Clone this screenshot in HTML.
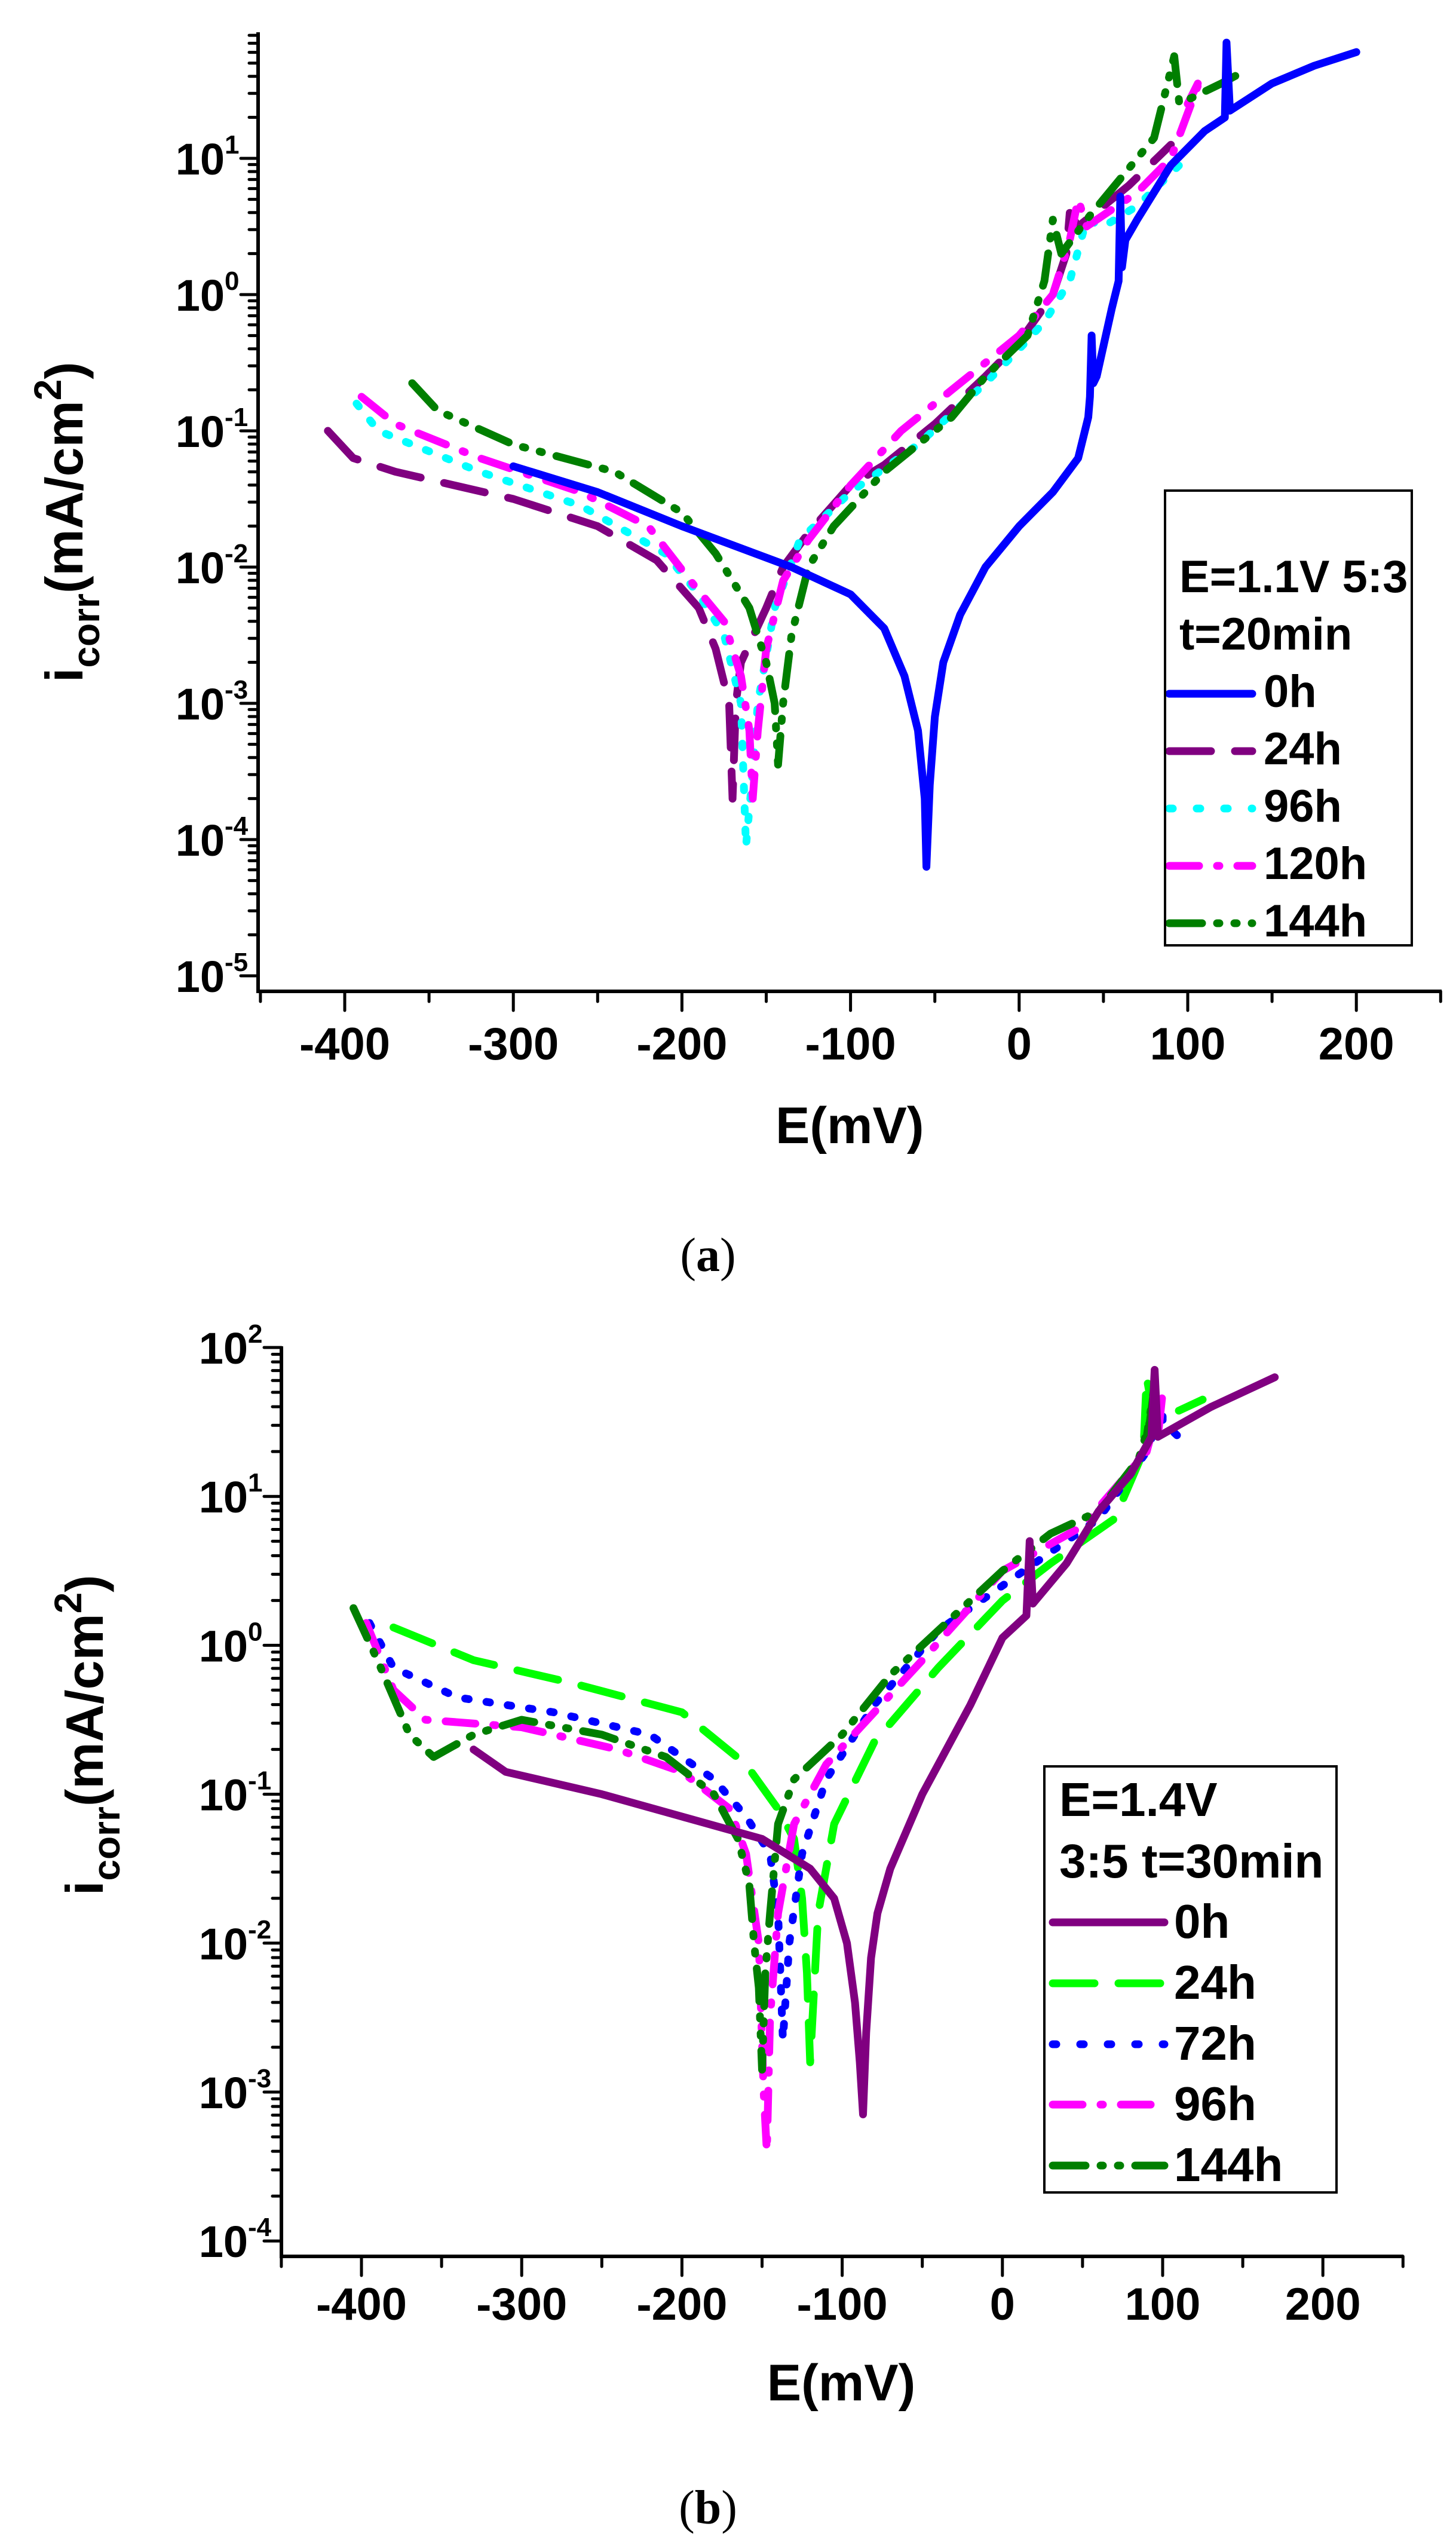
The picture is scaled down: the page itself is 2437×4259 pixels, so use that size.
<!DOCTYPE html>
<html><head><meta charset="utf-8"><style>
html,body{margin:0;padding:0;background:#fff}
svg{display:block}
text{font-family:"Liberation Sans",Arial,sans-serif;font-weight:bold;fill:#000}
</style></head><body>
<svg id="s" xmlns="http://www.w3.org/2000/svg" width="2437" height="4259" viewBox="0 0 2437 4259">
<rect width="2437" height="4259" fill="#fff"/>
<g id="g"></g>
<text x="1298" y="1913" font-size="86">E(mV)</text>
<text x="1185" y="2127" text-anchor="middle" style="font-family:'Liberation Serif',serif;font-weight:normal" font-size="80">(<tspan font-weight="bold">a</tspan>)</text>
<text transform="translate(138,1142) rotate(-90)" font-size="88">i<tspan font-size="64" dy="28">corr</tspan><tspan dy="-28">(mA/cm</tspan><tspan font-size="64" dy="-36">2</tspan><tspan dy="36">)</tspan></text>
<rect x="1950" y="821" width="413" height="761" fill="none" stroke="#000" stroke-width="4"/>
<text x="1974" y="991" font-size="76">E=1.1V 5:3</text>
<text x="1974" y="1087" font-size="76">t=20min</text>
<text x="2115" y="1183" font-size="76">0h</text>
<text x="2115" y="1279" font-size="76">24h</text>
<text x="2115" y="1375" font-size="76">96h</text>
<text x="2115" y="1471" font-size="76">120h</text>
<text x="2115" y="1567" font-size="76">144h</text>
<text x="1408" y="4017" font-size="86" text-anchor="middle">E(mV)</text>
<text x="1185" y="4223" text-anchor="middle" style="font-family:'Liberation Serif',serif;font-weight:normal" font-size="80">(<tspan font-weight="bold">b</tspan>)</text>
<text transform="translate(172,3172) rotate(-90)" font-size="88">i<tspan font-size="64" dy="28">corr</tspan><tspan dy="-28">(mA/cm</tspan><tspan font-size="64" dy="-36">2</tspan><tspan dy="36">)</tspan></text>
<rect x="1748" y="2956" width="489" height="713" fill="none" stroke="#000" stroke-width="4"/>
<text x="1773" y="3039" font-size="80">E=1.4V</text>
<text x="1773" y="3142" font-size="80">3:5 t=30min</text>
<text x="1965" y="3243" font-size="80">0h</text>
<text x="1965" y="3345" font-size="80">24h</text>
<text x="1965" y="3447" font-size="80">72h</text>
<text x="1965" y="3548" font-size="80">96h</text>
<text x="1965" y="3650" font-size="80">144h</text>
</svg>
<script>
var NS="http://www.w3.org/2000/svg",G=document.getElementById('g');
function el(t,a,p){var e=document.createElementNS(NS,t);for(var k in a)e.setAttribute(k,a[k]);if(p!=null)e.textContent=p;G.appendChild(e);return e;}
function axes(c){
 el('line',{x1:c.ax,y1:c.top,x2:c.ax,y2:c.bot,stroke:'#000','stroke-width':6});
 el('line',{x1:c.ax-3,y1:c.bot,x2:c.right,y2:c.bot,stroke:'#000','stroke-width':6});
 for(var d=c.dmin;d<=c.dmax;d++){
  var y=c.Y(d);
  if(y>=c.top-2&&y<=c.bot){el('line',{x1:c.ax-29,y1:y,x2:c.ax,y2:y,stroke:'#000','stroke-width':5,'stroke-linecap':'round'});
   el('text',{x:c.ax-56,y:y+27,'font-size':74,'text-anchor':'end'},'10');
   el('text',{x:c.ax-56,y:y-8,'font-size':44},(d<0?'-':'')+Math.abs(d));
  }
  for(var m=2;m<=9;m++){var yy=c.Y(d+Math.log10(m));if(yy>=c.top&&yy<=c.bot)el('line',{x1:c.ax-15,y1:yy,x2:c.ax,y2:yy,stroke:'#000','stroke-width':5,'stroke-linecap':'round'});}
 }
 for(var e=-450;e<=250;e+=50){var x=c.X(e);var maj=(e%100==0);
  el('line',{x1:x,y1:c.bot,x2:x,y2:c.bot+(maj?32:17),stroke:'#000','stroke-width':5,'stroke-linecap':'round'});
  if(maj&&e>=-400&&e<=200)el('text',{x:x,y:c.lab,'font-size':76,'text-anchor':'middle'},''+e);
 }
}
function series(c,pts,col,dash){
 var s='';for(var i=0;i<pts.length;i++){s+=(i?'L':'M')+c.X(pts[i][0]).toFixed(1)+' '+c.Y(pts[i][1]).toFixed(1);}
 var a={d:s,fill:'none',stroke:col,'stroke-width':13,'stroke-linecap':'round','stroke-linejoin':'round'};
 if(dash)a['stroke-dasharray']=dash;el('path',a);
}
function leg(x1,x2,y,col,dash){var a={x1:x1,y1:y,x2:x2,y2:y,stroke:col,'stroke-width':13,'stroke-linecap':'round'};if(dash)a['stroke-dasharray']=dash;el('line',a);}
var DL='70,40',DOT='6,30',DD='50,30,4,30',DDD='55,25,4,25,4,25';
var A={ax:432,top:54,bot:1659,right:2413,lab:1773,dmin:-5,dmax:1,
 X:function(e){return 577+(e+400)*2.822},Y:function(d){return 265+(1-d)*228}};
var B={ax:471,top:2253,bot:3776,right:2349,lab:3882,dmin:-4,dmax:2,
 X:function(e){return 605+(e+400)*2.682},Y:function(d){return 2255+(2-d)*249.2}};
axes(A);axes(B);
series(A,[[-410,-1],[-395,-1.2],[-370,-1.3],[-300,-1.5],[-250,-1.7],[-215,-1.95],[-190,-2.3],[-180,-2.6],[-172,-3.0],[-170,-3.7],[-168,-3.0],[-165,-2.7],[-150,-2.3],[-140,-2.0],[-125,-1.75],[-100,-1.4],[-80,-1.25],[-50,-0.95],[-20,-0.6],[0,-0.35],[20,0],[28,0.3],[30,0.6],[35,0.5],[50,0.65],[65,0.8],[90,1.1]],'#800080',DL);
series(A,[[-393,-0.8],[-380,-1.0],[-320,-1.3],[-260,-1.55],[-210,-1.9],[-190,-2.2],[-175,-2.5],[-165,-3.0],[-162,-4.05],[-158,-3.5],[-155,-3.0],[-145,-2.3],[-130,-1.8],[-100,-1.45],[-60,-1.1],[-20,-0.65],[0,-0.4],[15,-0.2],[30,0.1],[40,0.55],[50,0.5],[70,0.65],[95,0.95]],'#00ffff',DOT);
series(A,[[-390,-0.75],[-370,-0.95],[-320,-1.2],[-260,-1.45],[-220,-1.7],[-195,-2.1],[-175,-2.4],[-165,-2.8],[-160,-3.2],[-158,-3.7],[-155,-3.2],[-150,-2.6],[-140,-2.1],[-125,-1.8],[-100,-1.4],[-70,-1.0],[-40,-0.7],[0,-0.3],[20,0],[30,0.4],[35,0.7],[40,0.5],[70,0.75],[90,1.0],[108,1.6],[100,1.4]],'#ff00ff',DD);
series(A,[[-360,-0.65],[-345,-0.85],[-300,-1.1],[-240,-1.3],[-200,-1.6],[-180,-1.9],[-160,-2.3],[-150,-2.7],[-145,-3.0],[-143,-3.45],[-140,-3.0],[-135,-2.5],[-125,-2.0],[-110,-1.7],[-80,-1.3],[-40,-0.9],[-20,-0.6],[5,-0.3],[15,0.1],[20,0.55],[25,0.3],[40,0.55],[60,0.85],[80,1.15],[92,1.75],[95,1.4],[120,1.55],[135,1.65]],'#007f00',DDD);
series(A,[[-300,-1.26],[-250,-1.45],[-200,-1.7],[-135,-2.0],[-100,-2.2],[-80,-2.45],[-68,-2.8],[-60,-3.2],[-56,-3.7],[-55,-4.2],[-53,-3.6],[-50,-3.1],[-45,-2.7],[-35,-2.35],[-20,-2.0],[0,-1.7],[20,-1.45],[35,-1.2],[41,-0.9],[42,-0.75],[43,-0.3],[44,-0.65],[46,-0.6],[55,-0.1],[59,0.1],[60,0.72],[61,0.2],[63,0.4],[70,0.55],[90,0.95],[110,1.2],[122,1.3],[123,1.85],[125,1.35],[150,1.55],[175,1.68],[200,1.78]],'#0000ff',null);
leg(1957,2096,1161,'#0000ff',null);leg(1957,2096,1257,'#800080',DL);leg(1957,2096,1353,'#00ffff','6,40');leg(1957,2096,1449,'#ff00ff',DD);leg(1957,2096,1545,'#007f00',DDD);
series(B,[[-380,0.12],[-330,-0.1],[-270,-0.25],[-200,-0.45],[-160,-0.8],[-140,-1.1],[-130,-1.3],[-125,-1.7],[-122,-2.2],[-120,-2.8],[-117,-2.2],[-115,-1.8],[-105,-1.2],[-80,-0.65],[-40,-0.15],[0,0.3],[30,0.55],[70,0.85],[88,1.3],[90,1.8],[95,1.5],[125,1.65]],'#00ff00',DL);
series(B,[[-395,0.15],[-380,-0.15],[-340,-0.35],[-280,-0.45],[-220,-0.6],[-180,-0.9],[-160,-1.15],[-145,-1.4],[-140,-1.8],[-137,-2.65],[-133,-2.0],[-125,-1.4],[-110,-0.9],[-80,-0.4],[-40,0.1],[20,0.55],[60,0.85],[90,1.3],[100,1.6],[100,1.5],[110,1.4]],'#0000ff',DOT);
series(B,[[-397,0.15],[-380,-0.3],[-360,-0.5],[-300,-0.55],[-240,-0.7],[-200,-0.85],[-170,-1.1],[-160,-1.4],[-152,-2.0],[-149,-3.0],[-147,-3.4],[-145,-2.5],[-140,-1.8],[-130,-1.2],[-110,-0.8],[-80,-0.45],[-50,-0.1],[0,0.5],[50,0.8],[90,1.3],[100,1.7],[97,1.4]],'#ff00ff',DD);
series(B,[[-405,0.25],[-390,-0.1],[-370,-0.6],[-355,-0.75],[-330,-0.6],[-300,-0.5],[-250,-0.6],[-210,-0.75],[-180,-1.0],[-165,-1.3],[-158,-1.6],[-155,-2.0],[-152,-2.3],[-150,-2.85],[-148,-2.2],[-145,-1.8],[-140,-1.2],[-130,-0.9],[-100,-0.6],[-70,-0.2],[-30,0.2],[0,0.5],[30,0.75],[60,0.9],[85,1.25],[92,1.5],[95,1.75],[90,1.4]],'#007f00',DDD);
series(B,[[-330,-0.7],[-310,-0.85],[-250,-1.0],[-200,-1.15],[-150,-1.3],[-120,-1.5],[-105,-1.7],[-97,-2.0],[-92,-2.4],[-89,-2.8],[-87,-3.15],[-85,-2.6],[-82,-2.1],[-78,-1.8],[-70,-1.5],[-50,-1.0],[-20,-0.4],[0,0.05],[15,0.2],[17,0.7],[19,0.28],[40,0.55],[60,0.9],[80,1.15],[93,1.4],[95,1.85],[97,1.4],[130,1.6],[170,1.8]],'#800080',null);
leg(1762,1949,3217,'#800080',null);leg(1762,1949,3319,'#00ff00',DL);leg(1762,1949,3421,'#0000ff','6,40');leg(1762,1949,3522,'#ff00ff',DD);leg(1762,1949,3624,'#007f00',DDD);
</script>
</body></html>
